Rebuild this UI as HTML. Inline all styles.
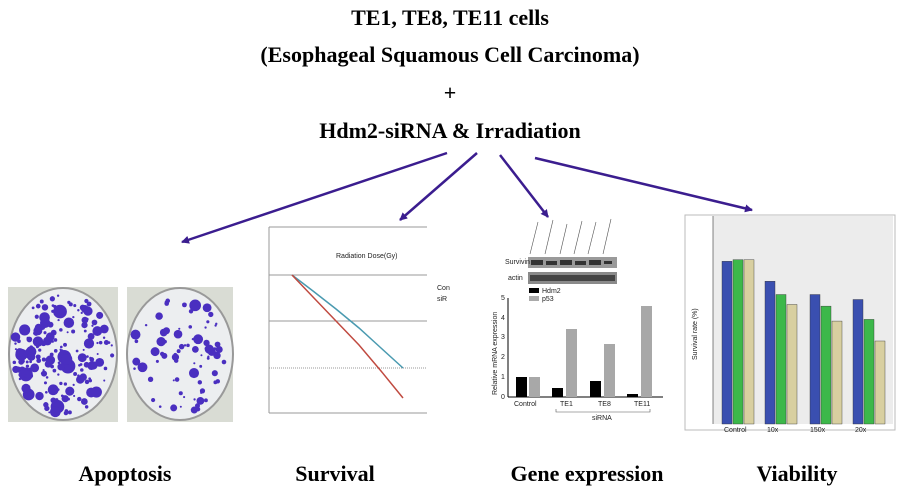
<!DOCTYPE html>
<html><head><meta charset="utf-8"><style>
body{margin:0;background:#fff}
svg{display:block}
.t{font-family:"Liberation Serif",serif;font-weight:bold;font-size:22px;fill:#000;text-anchor:middle}
.s{font-family:"Liberation Sans",sans-serif;font-size:7px;fill:#222}
</style></head><body>
<svg id="g" width="900" height="500" viewBox="0 0 900 500" xmlns="http://www.w3.org/2000/svg">
<defs><marker id="ah" markerWidth="8" markerHeight="8" refX="7" refY="4" orient="auto" markerUnits="userSpaceOnUse"><path d="M0,0 L8,4 L0,8 z" fill="#3b1d8f"/></marker></defs>
<text class="t" x="450" y="25">TE1, TE8, TE11 cells</text>
<text class="t" x="450" y="62">(Esophageal Squamous Cell Carcinoma)</text>
<text class="t" x="450" y="100">+</text>
<text class="t" x="450" y="138">Hdm2-siRNA &amp; Irradiation</text>
<g stroke="#3b1d8f" stroke-width="2.5" marker-end="url(#ah)">
<line x1="447" y1="153" x2="182" y2="242"/>
<line x1="477" y1="153" x2="400" y2="220"/>
<line x1="500" y1="155" x2="548" y2="217"/>
<line x1="535" y1="158" x2="752" y2="210"/>
</g>
<rect x="8" y="287" width="110" height="135" fill="#d9dcd4"/>
<ellipse cx="63" cy="354" rx="54" ry="66" fill="#eceef0" stroke="#999" stroke-width="2"/>
<rect x="127" y="287" width="106" height="135" fill="#d9dcd4"/>
<ellipse cx="180" cy="354" rx="53" ry="66" fill="#eceef0" stroke="#999" stroke-width="2"/>
<g id="dots" fill="#4a2fc0"></g>
<g stroke="#999" stroke-width="1">
<line x1="269" y1="227" x2="427" y2="227"/><line x1="269" y1="275" x2="427" y2="275"/>
<line x1="269" y1="321" x2="427" y2="321"/><line x1="269" y1="368" x2="427" y2="368" stroke-dasharray="1 1"/>
<line x1="269" y1="413" x2="427" y2="413"/><line x1="269" y1="227" x2="269" y2="413"/>
</g>
<text class="s" x="336" y="258" font-size="5">Radiation Dose(Gy)</text>
<polyline points="292,275 313,291 336,309 359,328 381,348 403,368" fill="none" stroke="#4a9ab0" stroke-width="1.5"/>
<polyline points="292,275 313,297 336,321 359,345 381,371 403,398" fill="none" stroke="#c04a40" stroke-width="1.5"/>
<text class="s" x="437" y="290" font-size="4" fill="#4a9ab0">Con</text>
<text class="s" x="437" y="301" font-size="4" fill="#c04a40">siR</text>
<g stroke="#555" stroke-width="0.6">
<line x1="530" y1="254" x2="538" y2="222"/><line x1="545" y1="254" x2="553" y2="220"/><line x1="560" y1="254" x2="567" y2="224"/><line x1="574" y1="254" x2="582" y2="221"/><line x1="588" y1="254" x2="596" y2="222"/><line x1="603" y1="254" x2="611" y2="219"/>
</g>
<rect x="528" y="257" width="89" height="11" fill="#9a9a9a"/>
<rect x="528" y="272" width="89" height="12" fill="#8a8a8a"/>
<g fill="#333"><rect x="531" y="260" width="12" height="5"/><rect x="546" y="261" width="11" height="4"/><rect x="560" y="260" width="12" height="5"/><rect x="575" y="261" width="11" height="4"/><rect x="589" y="260" width="12" height="5"/><rect x="604" y="261" width="8" height="3"/>
<rect x="530" y="275" width="85" height="6" fill="#444"/></g>
<text class="s" x="505" y="264" font-size="5">Survivin</text><text class="s" x="508" y="280" font-size="5">actin</text>
<rect x="529" y="288" width="10" height="5" fill="#000"/><text class="s" x="542" y="293">Hdm2</text>
<rect x="529" y="296" width="10" height="5" fill="#aaa"/><text class="s" x="542" y="301">p53</text>
<line x1="508" y1="298" x2="508" y2="397" stroke="#000"/><line x1="508" y1="397" x2="663" y2="397" stroke="#000"/>
<g class="s" font-size="6"><text x="501" y="399">0</text><text x="501" y="379">1</text><text x="501" y="359">2</text><text x="501" y="339">3</text><text x="501" y="320">4</text><text x="501" y="300">5</text></g>
<text class="s" font-size="7" transform="translate(497,395) rotate(-90)">Relative mRNA expression</text>
<g fill="#000"><rect x="516" y="377" width="11" height="20"/><rect x="552" y="388" width="11" height="9"/><rect x="590" y="381" width="11" height="16"/><rect x="627" y="394" width="11" height="3"/></g>
<g fill="#a8a8a8"><rect x="529" y="377" width="11" height="20"/><rect x="566" y="329" width="11" height="68"/><rect x="604" y="344" width="11" height="53"/><rect x="641" y="306" width="11" height="91"/></g>
<g class="s" font-size="6"><text x="514" y="406">Control</text><text x="560" y="406">TE1</text><text x="598" y="406">TE8</text><text x="634" y="406">TE11</text><text x="592" y="420">siRNA</text></g>
<path d="M556,409 v3 h94 v-3" fill="none" stroke="#555" stroke-width="0.6"/>
<rect x="685" y="215" width="210" height="215" fill="#fff" stroke="#bbb"/>
<rect x="713" y="216" width="180" height="208" fill="#ececec"/>
<line x1="713" y1="216" x2="713" y2="424" stroke="#333" stroke-width="0.6"/>
<text class="s" font-size="7" transform="translate(697,360) rotate(-90)">Survival rate (%)</text>
<g id="vb"></g>
<g class="s" font-size="5"><text x="724" y="432">Control</text><text x="767" y="432">10x</text><text x="810" y="432">150x</text><text x="855" y="432">20x</text></g>
<text class="t" x="125" y="481">Apoptosis</text>
<text class="t" x="335" y="481">Survival</text>
<text class="t" x="587" y="481">Gene expression</text>
<text class="t" x="797" y="481">Viability</text>
</svg>
<script>
var ns="http://www.w3.org/2000/svg",s=7;function r(){s=(s*9301+49297)%233280;return s/233280}
var d=document.getElementById("dots");
function dish(cx,cy,rx,ry,n,big){for(var i=0;i<n;i++){var a=r()*6.283,q=Math.sqrt(r())*0.92;var c=document.createElementNS(ns,"circle");c.setAttribute("cx",cx+Math.cos(a)*rx*q);c.setAttribute("cy",cy+Math.sin(a)*ry*q);c.setAttribute("r",1+r()*r()*big);d.appendChild(c)}}
dish(63,354,54,66,200,7);dish(180,354,53,66,80,5.5);
var vb=document.getElementById("vb"),vals=[[98,99,99],[86,78,72],[78,71,62],[75,63,50]],cols=["#3a4fb0","#3cb84a","#d8cfa0"],xs=[722,765,810,853];
vals.forEach(function(g,i){g.forEach(function(v,j){var h=v*1.66,e=document.createElementNS(ns,"rect");e.setAttribute("x",xs[i]+j*11);e.setAttribute("y",424-h);e.setAttribute("width",10);e.setAttribute("height",h);e.setAttribute("fill",cols[j]);e.setAttribute("stroke","#333");e.setAttribute("stroke-width","0.4");vb.appendChild(e)})});
</script>
</body></html>
